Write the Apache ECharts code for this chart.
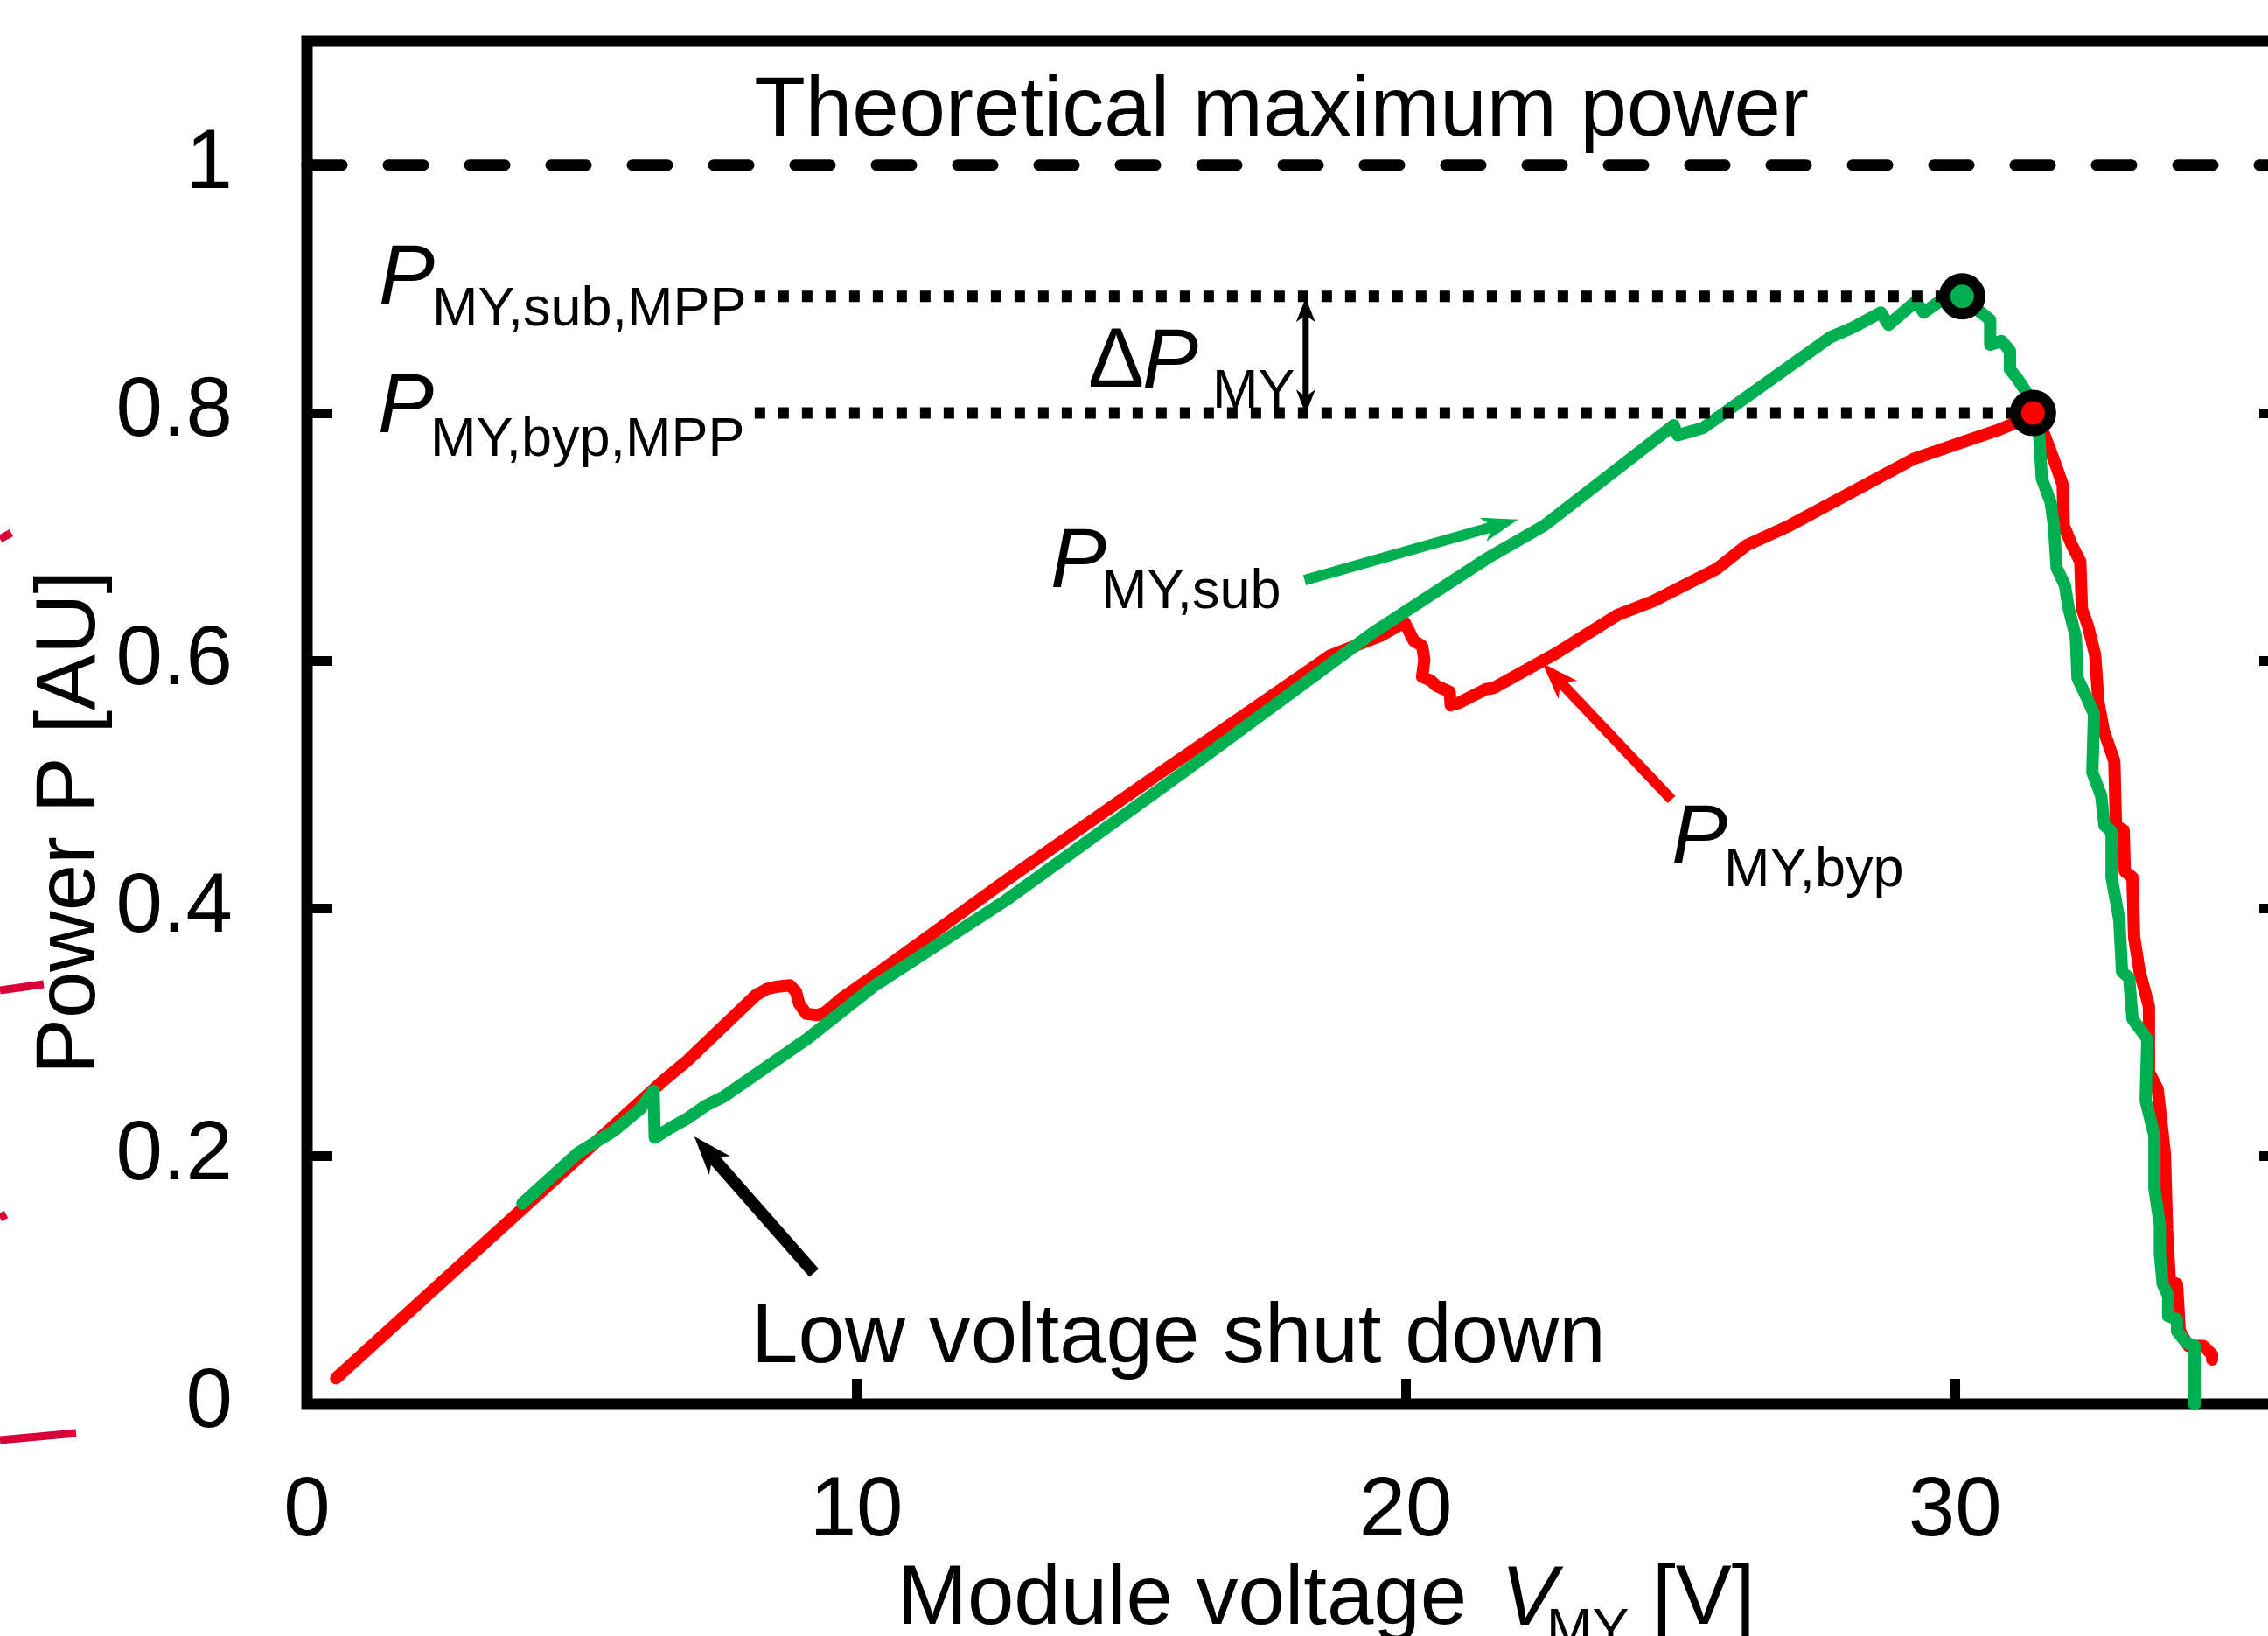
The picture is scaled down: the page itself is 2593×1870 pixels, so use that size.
<!DOCTYPE html>
<html>
<head>
<meta charset="utf-8">
<script src="https://cdn.jsdelivr.net/npm/echarts@6/dist/echarts.min.js"></script>
<style>
html,body{margin:0;padding:0;overflow:hidden;background:#fff;}
#c{width:2640px;height:1870px;}
</style>
</head>
<body>
<div id="c"></div>
<script>
// ---------- data ----------
const bypassV = [0.53, 6.46, 6.92, 8.17, 8.37, 8.57, 8.79, 8.90, 8.96, 9.09, 9.29, 9.43, 9.72, 10.33, 12.72, 15.35, 18.62, 19.54, 19.82, 19.98, 20.15, 20.30, 20.34, 20.30, 20.46, 20.55, 20.80, 20.82, 20.97, 21.46, 21.60, 22.74, 23.86, 24.50, 25.66, 26.20, 26.94, 29.25, 29.72, 30.18, 30.78, 31.42, 31.62, 31.69, 31.85, 31.96, 31.98, 32.12, 32.28, 32.31, 32.42, 32.55, 32.61, 32.71, 32.90, 32.93, 33.07, 33.09, 33.23, 33.26, 33.36, 33.53, 33.53, 33.69, 33.82, 33.86, 33.91, 34.04, 34.09, 34.25, 34.52, 34.68, 34.68];
const bypassP = [0.021, 0.260, 0.277, 0.330, 0.335, 0.337, 0.338, 0.333, 0.323, 0.315, 0.314, 0.316, 0.327, 0.346, 0.4225, 0.504, 0.604, 0.620, 0.627, 0.631, 0.616, 0.612, 0.601, 0.587, 0.584, 0.580, 0.575, 0.564, 0.566, 0.577, 0.578, 0.606, 0.637, 0.648, 0.674, 0.693, 0.708, 0.763, 0.770, 0.777, 0.786, 0.798, 0.783, 0.775, 0.756, 0.742, 0.709, 0.694, 0.680, 0.642, 0.628, 0.605, 0.567, 0.543, 0.519, 0.467, 0.463, 0.430, 0.425, 0.377, 0.349, 0.321, 0.268, 0.254, 0.202, 0.141, 0.0995, 0.097, 0.059, 0.047, 0.047, 0.040, 0.036];

const subV = [3.92, 4.94, 5.60, 6.06, 6.31, 6.33, 6.62, 6.94, 7.26, 7.58, 9.11, 10.34, 12.72, 15.92, 19.40, 21.46, 22.52, 24.88, 24.95, 25.42, 27.73, 28.15, 28.65, 28.79, 29.29, 29.43, 29.72, 30.13, 30.50, 30.64, 30.64, 30.85, 31.00, 31.00, 31.13, 31.28, 31.42, 31.45, 31.53, 31.58, 31.74, 31.80, 31.85, 32.00, 32.07, 32.20, 32.23, 32.39, 32.53, 32.50, 32.66, 32.72, 32.85, 32.85, 32.99, 33.04, 33.17, 33.23, 33.50, 33.47, 33.63, 33.63, 33.73, 33.73, 33.78, 33.88, 33.88, 34.04, 34.04, 34.20, 34.36, 34.36];
const subP = [0.162, 0.203, 0.221, 0.238, 0.253, 0.215, 0.223, 0.231, 0.241, 0.248, 0.295, 0.338, 0.4065, 0.509, 0.6225, 0.682, 0.709, 0.790, 0.782, 0.788, 0.861, 0.869, 0.881, 0.871, 0.890, 0.881, 0.890, 0.893, 0.880, 0.875, 0.855, 0.858, 0.850, 0.835, 0.828, 0.818, 0.805, 0.790, 0.784, 0.747, 0.728, 0.709, 0.675, 0.661, 0.642, 0.619, 0.586, 0.571, 0.557, 0.510, 0.491, 0.467, 0.462, 0.425, 0.391, 0.349, 0.344, 0.311, 0.2946, 0.245, 0.2165, 0.174, 0.144, 0.121, 0.097, 0.0876, 0.071, 0.0685, 0.059, 0.050, 0.047, 0.0];

const subMpp = [30.13, 0.894];
const bypMpp = [31.42, 0.800];
const theoreticalMax = 1;
const dottedStartV = 8.15;

const xTicks = [0, 10, 20, 30];
const yTicks = [0, 0.2, 0.4, 0.6, 0.8, 1];
const yRightTicks = [0.2, 0.4, 0.6, 0.8, 1];

// annotation anchors (data coords)
const lowArrow = {tail: [9.23, 0.106], tip: [7.05, 0.216]};
const subArrow = {tail: [18.16, 0.665], tip: [22.05, 0.714]};
const bypArrow = {tail: [24.84, 0.488], tip: [22.49, 0.598]};
const deltaArrow = {v: 18.18, top: 0.893, bottom: 0.799};

// ---------- chart ----------
const FONT = 'Liberation Sans';
const chart = echarts.init(document.getElementById('c'), null, {renderer: 'canvas'});

const tickStyle = {inside: true, length: 29, lineStyle: {color: '#000', width: 11}};
const option = {
  animation: false,
  backgroundColor: '#fff',
  grid: {left: 351, top: 47, width: 2261, height: 1558, show: true, borderColor: '#000', borderWidth: 13, containLabel: false},
  xAxis: {
    type: 'value', min: 0, max: 36,
    axisLine: {show: false}, splitLine: {show: false},
    axisTick: Object.assign({customValues: xTicks}, tickStyle),
    axisLabel: {customValues: xTicks, margin: 76, fontSize: 96, fontFamily: FONT, color: '#000'}
  },
  yAxis: [{
    type: 'value', min: 0, max: 1.1,
    axisLine: {show: false}, splitLine: {show: false},
    axisTick: Object.assign({customValues: yTicks}, tickStyle),
    axisLabel: {customValues: yTicks, margin: 85, fontSize: 96, fontFamily: FONT, color: '#000',
      formatter: v => String(+(+v).toFixed(1))}
  }, {
    type: 'value', min: 0, max: 1.1, position: 'right',
    axisLine: {show: false}, splitLine: {show: false},
    axisTick: Object.assign({customValues: yRightTicks}, tickStyle),
    axisLabel: {show: false}
  }],
  series: [
    {type: 'line', name: 'theoretical', data: [[0, theoreticalMax], [36, theoreticalMax]], symbol: 'none', silent: true, z: 2,
      lineStyle: {color: '#000', width: 13, type: [40, 53], cap: 'round', opacity: 1}},
    {type: 'line', name: 'P_MY,byp', data: bypassV.map((v, i) => [v, bypassP[i]]), symbol: 'none', silent: true, z: 3,
      lineStyle: {color: '#FF0000', width: 14, cap: 'round', join: 'round', opacity: 1}},
    {type: 'line', name: 'P_MY,sub', data: subV.map((v, i) => [v, subP[i]]), symbol: 'none', silent: true, z: 4,
      lineStyle: {color: '#00B050', width: 14, cap: 'round', join: 'round', opacity: 1}},
    {type: 'line', name: 'subMPPline', data: [[dottedStartV, subMpp[1]], [subMpp[0], subMpp[1]]], symbol: 'none', silent: true, z: 5,
      lineStyle: {color: '#000', width: 13, type: [12, 15], cap: 'butt', opacity: 1}},
    {type: 'line', name: 'bypMPPline', data: [[dottedStartV, bypMpp[1]], [bypMpp[0], bypMpp[1]]], symbol: 'none', silent: true, z: 5,
      lineStyle: {color: '#000', width: 13, type: [12, 15], cap: 'butt', opacity: 1}},
    {type: 'scatter', data: [subMpp], symbolSize: 40, silent: true, z: 10,
      itemStyle: {color: '#00B050', borderColor: '#000', borderWidth: 13, opacity: 1}},
    {type: 'scatter', data: [bypMpp], symbolSize: 40, silent: true, z: 10,
      itemStyle: {color: '#FF0000', borderColor: '#000', borderWidth: 13, opacity: 1}}
  ]
};
chart.setOption(option);

// ---------- annotations ----------
const toPx = d => chart.convertToPixel({gridIndex: 0}, d);
const DY = 8; // middle-baseline correction

function txt(str, x, y, size, italic, align, rot) {
  return {type: 'text', x: x, y: rot ? y : y + DY, rotation: rot || 0, z: 60, silent: true,
    style: {text: str, fontSize: size, fontFamily: FONT, fontStyle: italic ? 'italic' : 'normal',
      fill: '#000', align: align || 'left', verticalAlign: 'middle'}};
}
function head(b, ux, uy, L, hw, color) {
  const nx = -uy, ny = ux;
  return {type: 'polygon', z: 55, silent: true,
    shape: {points: [[b[0], b[1]],
      [b[0] - ux * L + nx * hw, b[1] - uy * L + ny * hw],
      [b[0] - ux * L * 0.72, b[1] - uy * L * 0.72],
      [b[0] - ux * L - nx * hw, b[1] - uy * L - ny * hw]]},
    style: {fill: color}};
}
function arrow(tailD, tipD, w, L, hw, color) {
  const a = toPx(tailD), b = toPx(tipD);
  const dx = b[0] - a[0], dy = b[1] - a[1], len = Math.hypot(dx, dy), ux = dx / len, uy = dy / len;
  const e = [b[0] - ux * L * 0.5, b[1] - uy * L * 0.5];
  return [
    {type: 'line', z: 55, silent: true, shape: {x1: a[0], y1: a[1], x2: e[0], y2: e[1]}, style: {stroke: color, lineWidth: w, lineCap: 'butt'}},
    head(b, ux, uy, L, hw, color)
  ];
}
function dblArrow(v, p1, p2, w, L, hw, color) {
  const a = toPx([v, p1]), b = toPx([v, p2]);
  return [
    {type: 'line', z: 55, silent: true, shape: {x1: a[0], y1: a[1] + L * 0.5, x2: b[0], y2: b[1] - L * 0.5}, style: {stroke: color, lineWidth: w}},
    head(a, 0, -1, L, hw, color),
    head(b, 0, 1, L, hw, color)
  ];
}

const crimson = '#D9003A';
const artifacts = [
  [0, 616, 13, 609], [0, 1132, 50, 1125], [0, 1392, 7, 1388], [0, 1646, 87, 1638]
].map(s => ({type: 'line', silent: true, z: 1, shape: {x1: s[0], y1: s[1], x2: s[2], y2: s[3]}, style: {stroke: crimson, lineWidth: 9}}));

const graphics = [].concat(
  artifacts,
  arrow(lowArrow.tail, lowArrow.tip, 14, 44, 16, '#000'),
  arrow(subArrow.tail, subArrow.tip, 12, 42, 14, '#00B050'),
  arrow(bypArrow.tail, bypArrow.tip, 12, 42, 15, '#FF0000'),
  dblArrow(deltaArrow.v, deltaArrow.top, deltaArrow.bottom, 7, 28, 11, '#000'),
  [
    txt('Theoretical maximum power', 1465, 121, 96, false, 'center'),
    txt('P', 433, 312, 96, true), txt('MY,sub,MPP', 494, 347, 63, false),
    txt('P', 432, 459, 96, true), txt('MY,byp,MPP', 492, 496, 63, false),
    txt('\u0394', 1244, 408, 96, false), txt('P', 1306, 408, 96, true), txt('MY', 1386, 441, 63, false),
    txt('P', 1201, 636, 96, true), txt('MY,sub', 1259, 670, 63, false),
    txt('P', 1911, 952, 96, true), txt('MY,byp', 1971, 988, 63, false),
    txt('Low voltage shut down', 859, 1523, 96, false),
    txt('Module voltage', 1026, 1822, 96, false),
    txt('V', 1716, 1822, 96, true), txt('MY', 1768, 1857, 63, false), txt('[V]', 1889, 1822, 96, false),
    txt('Power P [AU]', 82, 940, 96, false, 'center', Math.PI / 2)
  ]
);
chart.setOption({graphic: {elements: graphics}});
</script>
</body>
</html>
